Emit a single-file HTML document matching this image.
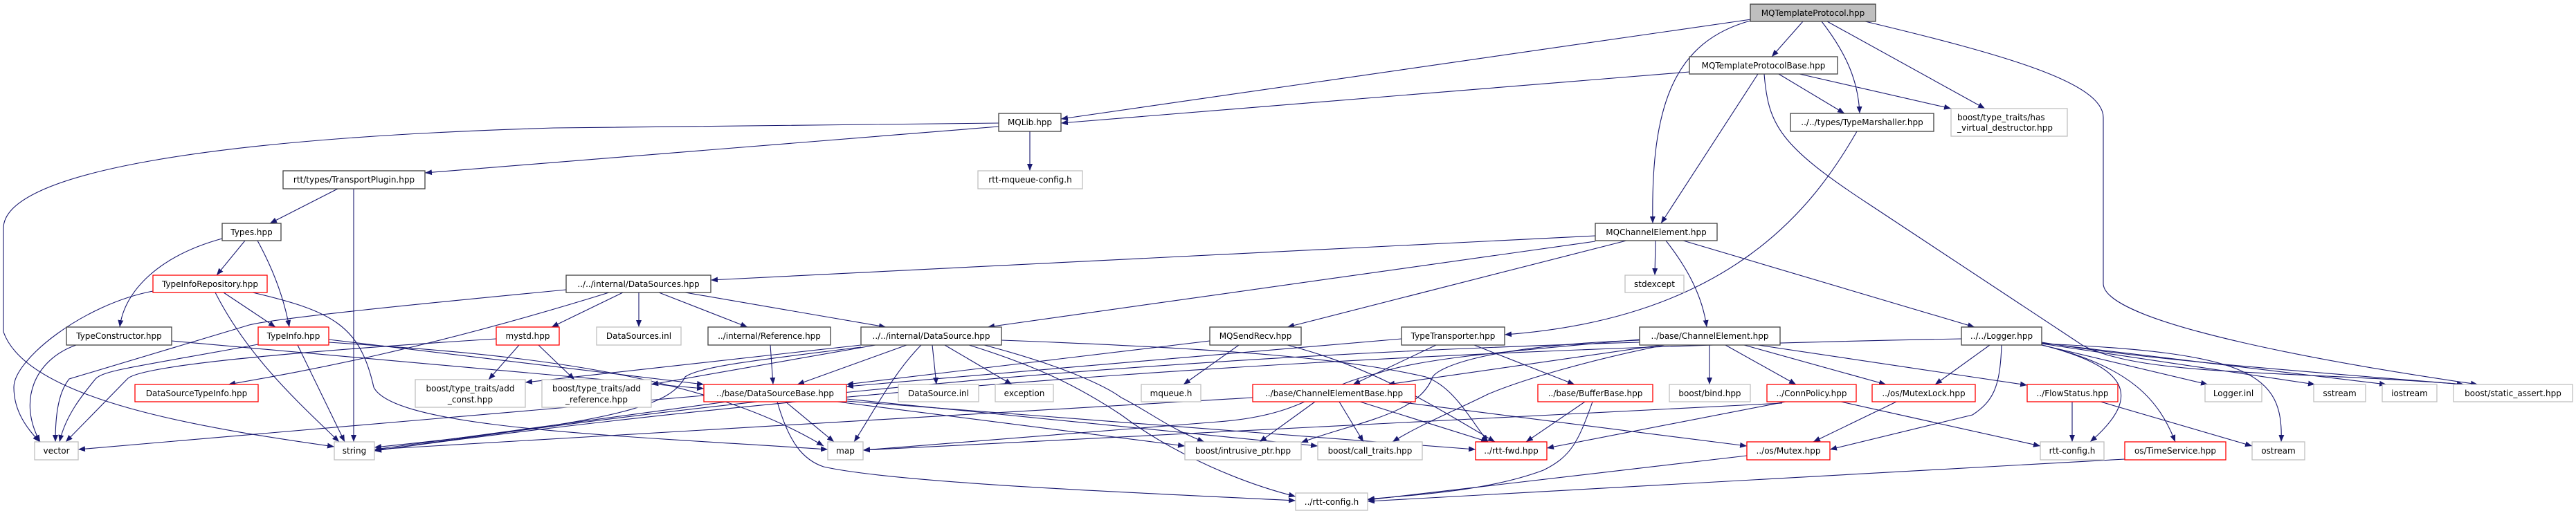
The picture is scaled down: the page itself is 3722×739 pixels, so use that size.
<!DOCTYPE html>
<html><head><meta charset="utf-8"><style>
html,body{margin:0;padding:0;background:#fff}
svg{display:block}
text{font-family:"DejaVu Sans","Liberation Sans",sans-serif;font-size:12px;fill:#000}
.n{fill:#fff;stroke:#404040;stroke-width:1.3}
.r{fill:#fff;stroke:#ff0000;stroke-width:1.3}
.g{fill:#fff;stroke:#bfbfbf;stroke-width:1.3}
.e{fill:none;stroke:#191970;stroke-width:1.1;marker-end:url(#a)}
</style></head><body>
<svg width="3722" height="739" viewBox="0 0 3722 739" xmlns="http://www.w3.org/2000/svg">
<defs><marker id="a" markerUnits="userSpaceOnUse" markerWidth="11" markerHeight="8" refX="10" refY="4" orient="auto"><path d="M0,0 L10,4 L0,8 z" fill="#191970"/></marker></defs>
<g>
<path class="e" d="M2530,28 L1533,172"/>
<path class="e" d="M2605,31 L2560,82"/>
<path class="e" d="M2529,30 C2420,60 2385,150 2388,323"/>
<path class="e" d="M2632,31 C2670,80 2685,120 2687,164"/>
<path class="e" d="M2640,31 L2868,157"/>
<path class="e" d="M2695,31 C2900,80 3039,120 3039,170 L3039,410 C3039,470 3400,530 3580,556"/>
<path class="e" d="M2441,104 L1533,178"/>
<path class="e" d="M2540,107 L2400,323"/>
<path class="e" d="M2570,107 L2665,164"/>
<path class="e" d="M2600,107 L2819,157"/>
<path class="e" d="M2549,107 C2555,180 2570,210 2700,295 L3010,500 C3100,545 3300,535 3560,556"/>
<path class="e" d="M2683,190 C2620,300 2500,460 2174,484"/>
<path class="e" d="M1443,178 L800,185 C300,200 5,250 5,330 L5,480 C40,580 300,620 483,646"/>
<path class="e" d="M1443,183 L614,250"/>
<path class="e" d="M1488,190 L1488,247"/>
<path class="e" d="M488,273 L390,323"/>
<path class="e" d="M511,273 L511,639"/>
<path class="e" d="M354,348 L313,398"/>
<path class="e" d="M372,348 C395,390 410,430 418,473"/>
<path class="e" d="M321,345 C230,370 180,420 173,473"/>
<path class="e" d="M221,421 C120,440 20,520 20,560 C20,600 45,625 57,639"/>
<path class="e" d="M311,423 C360,520 440,590 490,639"/>
<path class="e" d="M323,423 L398,473"/>
<path class="e" d="M365,423 C480,450 520,470 540,560 C570,620 900,630 1196,650"/>
<path class="e" d="M110,499 C50,520 25,580 58,639"/>
<path class="e" d="M248,493 L1017,562"/>
<path class="e" d="M373,498 C200,530 150,535 138,548 C120,570 95,600 86,639"/>
<path class="e" d="M430,499 L498,639"/>
<path class="e" d="M475,491 L1017,556"/>
<path class="e" d="M475,495 C700,510 1000,530 1190,645"/>
<path class="e" d="M750,499 L706,549"/>
<path class="e" d="M778,499 L830,549"/>
<path class="e" d="M717,490 C400,510 200,530 184,548 L95,639"/>
<path class="e" d="M818,419 C600,440 400,460 360,470 L100,548 C82,570 80,610 80,639"/>
<path class="e" d="M900,423 L797,473"/>
<path class="e" d="M880,423 C600,510 420,540 330,556"/>
<path class="e" d="M923,423 L923,473"/>
<path class="e" d="M952,423 L1080,473"/>
<path class="e" d="M990,423 L1280,473"/>
<path class="e" d="M1113,499 L1117,556"/>
<path class="e" d="M1310,499 L1152,556"/>
<path class="e" d="M1331,499 C1290,540 1260,600 1234,639"/>
<path class="e" d="M1347,499 L1353,556"/>
<path class="e" d="M1365,499 L1462,556"/>
<path class="e" d="M1244,499 L759,553"/>
<path class="e" d="M1265,499 L941,556"/>
<path class="e" d="M1244,502 C1100,520 1010,530 990,545 C970,585 900,610 541,647"/>
<path class="e" d="M1400,499 C1500,530 1560,560 1620,600 C1700,660 1800,700 1872,718"/>
<path class="e" d="M1422,499 C1540,530 1600,560 1620,575 C1660,595 1690,620 1740,639"/>
<path class="e" d="M1447,492 C1800,505 1950,520 2060,545 C2100,560 2120,600 2150,639"/>
<path class="e" d="M1017,572 L113,650"/>
<path class="e" d="M1050,581 L541,650"/>
<path class="e" d="M1135,581 L1205,639"/>
<path class="e" d="M1210,581 L1712,645"/>
<path class="e" d="M1123,581 C1140,640 1160,665 1190,675 C1300,700 1700,715 1872,724"/>
<path class="e" d="M1223,580 L2132,650"/>
<path class="e" d="M1223,577 L1904,645"/>
<path class="e" d="M2305,341 L1027,405"/>
<path class="e" d="M2305,349 L1427,473"/>
<path class="e" d="M2350,348 L1860,473"/>
<path class="e" d="M2392,348 L2391,398"/>
<path class="e" d="M2407,348 C2440,390 2460,430 2466,473"/>
<path class="e" d="M2432,348 L2853,473"/>
<path class="e" d="M1748,493 L1223,556"/>
<path class="e" d="M1790,499 L1710,556"/>
<path class="e" d="M1860,499 C1980,530 2060,580 2160,639"/>
<path class="e" d="M2025,490 L1223,559"/>
<path class="e" d="M2075,499 L1955,556"/>
<path class="e" d="M2130,499 L2275,556"/>
<path class="e" d="M2400,499 L2005,556"/>
<path class="e" d="M2470,499 L2470,556"/>
<path class="e" d="M2493,499 L2595,556"/>
<path class="e" d="M2520,499 L2725,556"/>
<path class="e" d="M2540,499 L2929,557"/>
<path class="e" d="M2405,499 C2300,520 2202,548 2150,570 C2100,595 2050,615 2012,639"/>
<path class="e" d="M2369,492 C2150,500 2080,530 2070,545 C2050,600 1960,610 1880,640"/>
<path class="e" d="M2369,491 C2150,510 2050,520 1990,540 C1900,560 1890,600 1760,610 L1247,651"/>
<path class="e" d="M2369,495 C1500,520 900,600 541,652"/>
<path class="e" d="M1900,581 L1820,639"/>
<path class="e" d="M1935,581 L1970,639"/>
<path class="e" d="M1965,581 L2150,639"/>
<path class="e" d="M2020,581 L2524,645"/>
<path class="e" d="M1810,575 L541,650"/>
<path class="e" d="M2290,581 L2205,639"/>
<path class="e" d="M2301,581 C2280,640 2270,660 2230,680 C2150,710 2050,715 1976,722"/>
<path class="e" d="M2580,581 L2235,648"/>
<path class="e" d="M2660,581 L2948,645"/>
<path class="e" d="M2575,583 L1247,651"/>
<path class="e" d="M2740,581 L2620,639"/>
<path class="e" d="M2524,659 L1976,723"/>
<path class="e" d="M2994,581 L2994,639"/>
<path class="e" d="M3035,581 L3254,645"/>
<path class="e" d="M2875,499 L2796,556"/>
<path class="e" d="M2892,499 C2890,560 2880,580 2850,600 L2644,650"/>
<path class="e" d="M2950,499 L3190,556"/>
<path class="e" d="M2950,497 L3345,556"/>
<path class="e" d="M2950,496 L3448,556"/>
<path class="e" d="M2950,495 C3100,520 3300,535 3560,556"/>
<path class="e" d="M2951,499 C3070,530 3100,570 3020,639"/>
<path class="e" d="M2950,499 C3080,530 3120,580 3143,639"/>
<path class="e" d="M2950,497 C3250,510 3300,540 3296,639"/>
<path class="e" d="M2834,490 C2000,505 1200,560 541,652"/>
<path class="e" d="M3070,664 L1976,725"/>
</g>
<g>
<rect x="2529" y="6" width="181" height="25" style="fill:#bfbfbf;stroke:#404040;stroke-width:1.3"/><text x="2619.5" y="23" text-anchor="middle">MQTemplateProtocol.hpp</text>
<rect class="n" x="2441" y="82" width="214" height="25"/><text x="2548" y="99" text-anchor="middle">MQTemplateProtocolBase.hpp</text>
<rect class="n" x="1443" y="164" width="90" height="26"/><text x="1488" y="181" text-anchor="middle">MQLib.hpp</text>
<rect class="n" x="2587" y="164" width="207" height="26"/><text x="2690.5" y="181" text-anchor="middle">../../types/TypeMarshaller.hpp</text>
<rect class="g" x="2819" y="157" width="168" height="40"/><text x="2828" y="174">boost/type_traits/has</text><text x="2828" y="189">_virtual_destructor.hpp</text>
<rect class="n" x="409" y="247" width="205" height="26"/><text x="511.5" y="264" text-anchor="middle">rtt/types/TransportPlugin.hpp</text>
<rect class="g" x="1413" y="247" width="151" height="26"/><text x="1488.5" y="264" text-anchor="middle">rtt-mqueue-config.h</text>
<rect class="n" x="321" y="323" width="85" height="25"/><text x="363.5" y="340" text-anchor="middle">Types.hpp</text>
<rect class="n" x="2305" y="323" width="176" height="25"/><text x="2393" y="340" text-anchor="middle">MQChannelElement.hpp</text>
<rect class="r" x="221" y="398" width="165" height="25"/><text x="303.5" y="415" text-anchor="middle">TypeInfoRepository.hpp</text>
<rect class="n" x="818" y="398" width="209" height="25"/><text x="922.5" y="415" text-anchor="middle">../../internal/DataSources.hpp</text>
<rect class="g" x="2348" y="398" width="85" height="25"/><text x="2390.5" y="415" text-anchor="middle">stdexcept</text>
<rect class="n" x="96" y="473" width="152" height="26"/><text x="172" y="490" text-anchor="middle">TypeConstructor.hpp</text>
<rect class="r" x="373" y="473" width="102" height="26"/><text x="424" y="490" text-anchor="middle">TypeInfo.hpp</text>
<rect class="r" x="717" y="473" width="91" height="26"/><text x="762.5" y="490" text-anchor="middle">mystd.hpp</text>
<rect class="g" x="862" y="473" width="122" height="26"/><text x="923" y="490" text-anchor="middle">DataSources.inl</text>
<rect class="n" x="1023" y="473" width="177" height="26"/><text x="1111.5" y="490" text-anchor="middle">../internal/Reference.hpp</text>
<rect class="n" x="1244" y="473" width="203" height="26"/><text x="1345.5" y="490" text-anchor="middle">../../internal/DataSource.hpp</text>
<rect class="n" x="1748" y="473" width="132" height="26"/><text x="1814" y="490" text-anchor="middle">MQSendRecv.hpp</text>
<rect class="n" x="2025" y="473" width="149" height="26"/><text x="2099.5" y="490" text-anchor="middle">TypeTransporter.hpp</text>
<rect class="n" x="2369" y="473" width="203" height="26"/><text x="2470.5" y="490" text-anchor="middle">../base/ChannelElement.hpp</text>
<rect class="n" x="2834" y="473" width="116" height="26"/><text x="2892" y="490" text-anchor="middle">../../Logger.hpp</text>
<rect class="r" x="195" y="556" width="178" height="25"/><text x="284" y="573" text-anchor="middle">DataSourceTypeInfo.hpp</text>
<rect class="g" x="600" y="549" width="159" height="40"/><text x="679.5" y="566" text-anchor="middle">boost/type_traits/add</text><text x="679.5" y="582" text-anchor="middle">_const.hpp</text>
<rect class="g" x="783" y="549" width="158" height="40"/><text x="862" y="566" text-anchor="middle">boost/type_traits/add</text><text x="862" y="582" text-anchor="middle">_reference.hpp</text>
<rect class="r" x="1017" y="556" width="206" height="25"/><text x="1120" y="573" text-anchor="middle">../base/DataSourceBase.hpp</text>
<rect class="g" x="1298" y="556" width="116" height="25"/><text x="1356" y="573" text-anchor="middle">DataSource.inl</text>
<rect class="g" x="1438" y="556" width="84" height="25"/><text x="1480" y="573" text-anchor="middle">exception</text>
<rect class="g" x="1649" y="556" width="86" height="25"/><text x="1692" y="573" text-anchor="middle">mqueue.h</text>
<rect class="r" x="1810" y="556" width="235" height="25"/><text x="1927.5" y="573" text-anchor="middle">../base/ChannelElementBase.hpp</text>
<rect class="r" x="2222" y="556" width="166" height="25"/><text x="2305" y="573" text-anchor="middle">../base/BufferBase.hpp</text>
<rect class="g" x="2412" y="556" width="117" height="25"/><text x="2470.5" y="573" text-anchor="middle">boost/bind.hpp</text>
<rect class="r" x="2553" y="556" width="129" height="25"/><text x="2617.5" y="573" text-anchor="middle">../ConnPolicy.hpp</text>
<rect class="r" x="2705" y="556" width="149" height="25"/><text x="2779.5" y="573" text-anchor="middle">../os/MutexLock.hpp</text>
<rect class="r" x="2929" y="556" width="131" height="25"/><text x="2994.5" y="573" text-anchor="middle">../FlowStatus.hpp</text>
<rect class="g" x="3186" y="556" width="82" height="25"/><text x="3227" y="573" text-anchor="middle">Logger.inl</text>
<rect class="g" x="3343" y="556" width="75" height="25"/><text x="3380.5" y="573" text-anchor="middle">sstream</text>
<rect class="g" x="3442" y="556" width="79" height="25"/><text x="3481.5" y="573" text-anchor="middle">iostream</text>
<rect class="g" x="3545" y="556" width="172" height="25"/><text x="3631" y="573" text-anchor="middle">boost/static_assert.hpp</text>
<rect class="g" x="50" y="639" width="63" height="26"/><text x="81.5" y="656" text-anchor="middle">vector</text>
<rect class="g" x="483" y="639" width="58" height="26"/><text x="512" y="656" text-anchor="middle">string</text>
<rect class="g" x="1196" y="639" width="51" height="26"/><text x="1221.5" y="656" text-anchor="middle">map</text>
<rect class="g" x="1712" y="639" width="168" height="26"/><text x="1796" y="656" text-anchor="middle">boost/intrusive_ptr.hpp</text>
<rect class="g" x="1904" y="639" width="151" height="26"/><text x="1979.5" y="656" text-anchor="middle">boost/call_traits.hpp</text>
<rect class="r" x="2132" y="639" width="103" height="26"/><text x="2183.5" y="656" text-anchor="middle">../rtt-fwd.hpp</text>
<rect class="r" x="2524" y="639" width="120" height="26"/><text x="2584" y="656" text-anchor="middle">../os/Mutex.hpp</text>
<rect class="g" x="2948" y="639" width="92" height="26"/><text x="2994" y="656" text-anchor="middle">rtt-config.h</text>
<rect class="r" x="3070" y="639" width="146" height="26"/><text x="3143" y="656" text-anchor="middle">os/TimeService.hpp</text>
<rect class="g" x="3254" y="639" width="76" height="26"/><text x="3292" y="656" text-anchor="middle">ostream</text>
<rect class="g" x="1872" y="713" width="104" height="25"/><text x="1924" y="730" text-anchor="middle">../rtt-config.h</text>
</g>
</svg>
</body></html>
